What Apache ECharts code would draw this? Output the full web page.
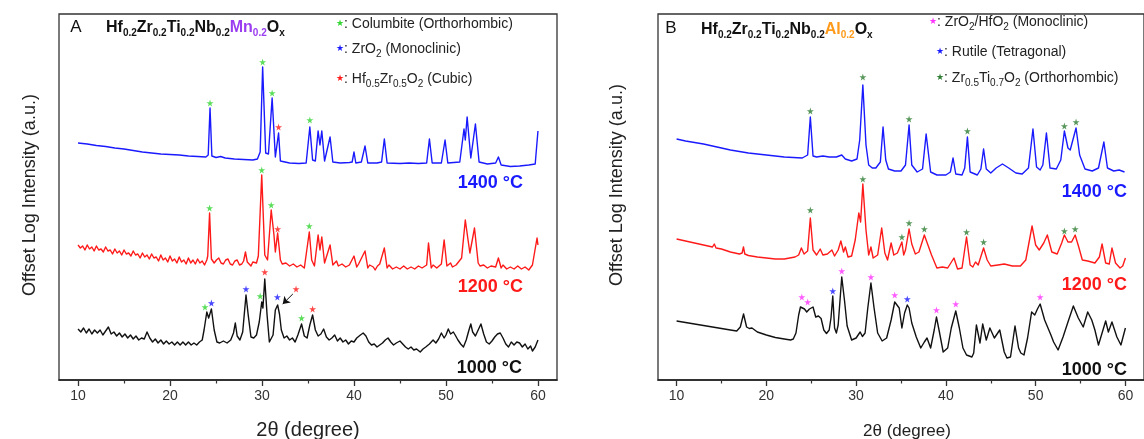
<!DOCTYPE html>
<html><head><meta charset="utf-8">
<script src="https://cdn.jsdelivr.net/npm/echarts@6/dist/echarts.min.js"></script>
<style>html,body{margin:0;padding:0;background:#fff}#c{width:1144px;height:439px}</style>
</head><body><div id="c"></div>
<script>
// ---------- DATA (2θ in degree, offset log intensity in a.u.) ----------
const tickLabels = [10, 20, 30, 40, 50, 60];
const minorTicks = [15, 25, 35, 45, 55];
const tempLabels = ['1400 °C', '1200 °C', '1000 °C'];

// Panel A : Hf0.2Zr0.2Ti0.2Nb0.2Mn0.2Ox
const mn1400 = [[10.0,237],[11,236],[12,234.5],[13,233.5],[14,232],[15,231],[16,229.5],[17,228],[18,227],[19,226],[20,225.5],[21,225],[22,224],[23,223.5],[23.9,223],[24.15,225],[24.35,272],[24.55,224],[25,222.5],[25.5,223.5],[26,222],[27,221],[28,220.5],[29,220],[29.5,221],[29.8,228],[30.07,313],[30.4,227],[30.7,226],[31.1,282],[31.45,223],[31.6,224],[31.8,247],[32.0,219],[33,217],[34,216.5],[34.8,217],[35.2,253],[35.5,220],[35.8,219],[36.1,249],[36.3,235],[36.5,249],[36.8,219],[37.0,220],[37.4,243],[37.7,218],[38.5,217],[39.5,217.5],[39.8,218],[40.0,228],[40.2,217],[40.8,218],[41.2,234],[41.5,217],[42.5,217],[43.0,218],[43.3,241],[43.6,217],[45,216.5],[46,217],[47,216.5],[47.9,217],[48.2,241],[48.5,217],[49.5,217],[49.9,240],[50.2,217],[51.5,218],[51.96,251],[52.1,240],[52.3,263],[52.7,222],[53.2,256],[53.6,218],[54.5,216],[55.4,217],[55.7,223],[56.0,215],[57,213.5],[58,214],[59,215],[59.7,216],[60.0,249]];
const mn1200 = [[10,135],[10.25,132],[10.5,134],[10.75,130],[11,135],[11.25,131],[11.5,133],[11.75,129],[12,134],[12.25,130],[12.5,131],[12.75,128],[13,133],[13.25,129],[13.5,130],[13.75,126],[14,131],[14.25,127],[14.5,129],[14.75,125],[15,130],[15.25,126],[15.5,127],[15.75,124],[16,129],[16.25,125],[16.5,126],[16.75,122],[17,127],[17.25,123],[17.5,125],[17.75,121],[18,126],[18.25,122],[18.5,123],[18.75,119],[19,125],[19.25,120],[19.5,122],[19.75,118],[20,124],[20.25,119],[20.5,121],[20.75,117],[21,123],[21.25,118],[21.5,120],[21.75,116],[22,122],[22.25,117],[22.5,120],[22.75,116],[23,121],[23.25,117],[23.5,119],[23.75,115],[24.0,120],[24.1,124],[24.3,167],[24.5,121],[24.8,117],[25.05,120],[25.3,122],[25.55,117],[25.8,116],[26.05,120],[26.3,121],[26.55,116],[26.8,115],[27.05,119],[27.3,120],[27.55,115],[27.8,116],[28.0,119],[28.2,128],[28.4,118],[28.6,116],[28.8,114],[29.0,118],[29.2,119],[29.4,117],[29.6,124],[29.97,205],[30.3,125],[30.6,120],[31.0,170],[31.3,145],[31.45,128],[31.7,147],[32.0,120],[32.2,116],[32.4,114],[32.6,117],[32.8,118],[33.0,114],[33.2,112],[33.4,116],[33.6,117],[33.8,113],[34.0,111],[34.2,115],[34.4,116],[34.6,112],[34.8,113],[35.14,148],[35.4,120],[35.7,114],[36.1,145],[36.3,130],[36.5,143],[36.8,117],[37.0,119],[37.4,135],[37.7,115],[37.9,117],[38.1,119],[38.3,114],[38.5,112],[38.7,116],[38.9,117],[39.1,113],[39.3,111],[39.5,115],[39.7,116],[40.0,124],[40.3,113],[40.5,116],[40.7,117],[41.2,129],[41.5,112],[41.7,115],[41.9,117],[42.1,113],[42.3,110],[42.55,114],[42.8,116],[43.3,132],[43.6,112],[43.8,115],[44.0,116],[44.2,111],[44.4,109],[44.6,113],[44.8,115],[45.0,111],[45.2,110],[45.4,114],[45.6,116],[45.8,111],[46.0,109],[46.2,113],[46.4,115],[46.6,111],[46.8,110],[47.0,114],[47.2,116],[47.4,112],[47.6,111],[47.9,115],[48.1,137],[48.4,112],[48.6,115],[48.8,117],[49.0,112],[49.2,110],[49.5,116],[49.8,140],[50.1,114],[50.3,116],[50.5,117],[50.7,113],[50.9,111],[51.1,115],[51.3,117],[51.7,122],[52.1,160],[52.4,140],[52.6,127],[52.8,128],[53.1,152],[53.5,117],[53.7,114],[53.9,112],[54.1,115],[54.3,117],[54.5,112],[54.7,110],[54.9,114],[55.1,115],[55.4,113],[55.7,122],[56.0,112],[56.2,115],[56.4,116],[56.6,111],[56.8,109],[57.0,113],[57.2,114],[57.4,111],[57.6,110],[57.8,114],[58.0,115],[58.2,111],[58.4,109],[58.6,113],[58.8,114],[59.0,110],[59.2,111],[59.4,115],[59.6,116],[59.9,142],[60.0,135]];
const mn1000 = [[10,51],[10.3,48],[10.6,52],[10.9,47],[11.2,51],[11.5,46],[11.8,50],[12.1,47],[12.4,50],[12.7,45],[13.0,49],[13.3,53],[13.6,46],[13.9,48],[14.2,44],[14.5,47],[14.8,43],[15.1,46],[15.4,42],[15.7,45],[16.0,41],[16.3,44],[16.6,40],[16.9,42],[17.2,41],[17.5,48],[17.8,42],[18.1,38],[18.4,41],[18.7,37],[19.0,40],[19.3,36],[19.6,39],[19.9,36],[20.2,38],[20.5,35],[20.8,38],[21.1,35],[21.4,38],[21.7,35],[22.0,38],[22.3,35],[22.6,37],[22.9,35],[23.2,38],[23.5,40],[23.7,50],[24.0,68],[24.2,62],[24.5,71],[24.8,50],[25.1,38],[25.4,37],[25.8,39],[26.2,37],[26.6,40],[26.9,47],[27.1,57],[27.3,44],[27.6,40],[27.9,48],[28.26,85],[28.5,65],[28.8,43],[29.1,42],[29.4,45],[29.7,58],[29.97,78],[30.1,72],[30.3,101],[30.55,65],[30.8,38],[31.0,37],[31.2,45],[31.45,70],[31.7,75],[31.9,66],[32.1,50],[32.4,42],[32.7,44],[33.0,40],[33.3,42],[33.6,38],[33.9,45],[34.3,56],[34.6,44],[34.9,42],[35.2,55],[35.5,65],[35.8,50],[36.1,44],[36.4,46],[36.7,51],[37.0,43],[37.3,40],[37.6,42],[37.9,45],[38.2,39],[38.5,42],[38.8,38],[39.1,40],[39.4,36],[39.7,39],[40.0,38],[40.3,42],[40.7,45],[41.0,47],[41.3,44],[41.6,38],[41.9,35],[42.2,36],[42.5,33],[42.8,35],[43.1,37],[43.4,40],[43.7,42],[44.0,38],[44.3,35],[44.6,37],[45.0,39],[45.3,36],[45.6,33],[45.9,31],[46.2,33],[46.5,30],[46.8,31],[47.2,28],[47.5,31],[47.8,33],[48.2,36],[48.6,40],[48.9,37],[49.2,41],[49.5,47],[49.8,42],[50.0,45],[50.25,51],[50.5,46],[50.8,48],[51.0,45],[51.3,40],[51.6,36],[51.9,33],[52.2,40],[52.5,50],[52.7,56],[52.9,48],[53.2,44],[53.5,50],[53.8,56],[54.1,46],[54.4,38],[54.7,36],[55.0,39],[55.3,43],[55.6,46],[55.9,47],[56.2,42],[56.5,36],[56.8,33],[57.1,38],[57.4,35],[57.7,38],[58.0,37],[58.3,33],[58.6,36],[58.9,31],[59.2,34],[59.4,29],[59.7,33],[60.0,40]];
const starsA_green = [[24.35,277],[30.07,318],[31.1,287],[35.2,260],[24.3,172],[29.97,210],[31.0,175],[35.14,154],[23.8,73],[29.8,84],[34.3,62]];
const starsA_blue = [[24.5,77],[28.26,91],[31.67,83]];
const starsA_red = [[31.8,253],[31.7,151],[30.3,108],[33.7,91],[35.5,71]];
const arrowA = [[33.35,86],[32.25,76]];

// Panel B : Hf0.2Zr0.2Ti0.2Nb0.2Al0.2Ox
const al1400 = [[10.0,241],[11,239],[12,237.5],[13,236],[14,234],[15,232],[16,230],[17,228.5],[18,227],[19,226],[20,225],[21,224],[22,223],[23,222.5],[24.0,222],[24.6,225],[24.9,263],[25.2,224],[25.6,223],[26.3,224],[27,223],[27.8,223],[28.1,224],[28.4,225],[28.8,221],[29.5,219],[30.1,221],[30.4,240],[30.75,295],[31.1,235],[31.4,215],[31.8,212],[32.2,212],[32.7,218],[33.0,253],[33.3,220],[33.6,211],[34.3,209],[35.0,209],[35.5,215],[35.9,255],[36.2,215],[36.8,208],[37.4,211],[37.8,246],[38.3,208],[39.0,205],[40.0,205],[40.5,208],[40.8,222],[41.1,206],[41.8,205],[42.1,212],[42.4,243],[42.7,208],[43.5,205],[43.9,211],[44.2,231],[44.5,211],[45.0,207],[45.6,212],[46.3,216],[47.0,212],[47.8,207],[48.5,206],[49.2,212],[49.7,251],[50.1,213],[50.5,210],[50.8,215],[51.2,247],[51.6,212],[52.3,211],[52.8,220],[53.2,249],[53.6,232],[53.85,230],[54.5,252],[54.9,225],[55.5,211],[56.3,209],[57.0,212],[57.6,238],[58.0,212],[58.7,209],[59.3,210],[59.9,208]];
const al1200 = [[10.0,141],[11,139],[12,137],[13,135],[14.0,133],[14.2,136],[14.4,132],[15,131],[16,128],[17,126],[17.3,127],[17.45,133],[17.6,126],[18,124.5],[19,123],[20,122],[21,121],[22,121],[23.2,123],[23.6,125],[23.9,132],[24.2,126],[24.6,129],[24.9,162],[25.2,130],[25.6,125],[26.0,131],[26.3,125],[26.8,126],[27.3,130],[27.6,124],[28.0,130],[28.3,139],[28.6,128],[28.8,133],[29.1,123],[29.5,124],[29.9,140],[30.3,167],[30.5,158],[30.75,196],[31.1,150],[31.4,125],[31.65,133],[31.9,122],[32.4,125],[32.85,152],[33.2,127],[33.5,120],[33.9,137],[34.2,125],[34.6,127],[35.1,138],[35.3,125],[35.5,130],[35.9,151],[36.2,136],[36.6,126],[37.0,128],[37.6,145],[38.0,135],[38.4,125],[39.0,112],[39.6,113],[40.2,112],[40.9,122],[41.3,111],[41.8,112],[42.3,143],[42.7,115],[43.0,113],[43.3,118],[43.6,115],[44.2,132],[44.6,120],[45.0,114],[45.8,115],[46.5,116],[47.4,114],[48.3,114],[48.9,120],[49.6,154],[50.0,135],[50.4,130],[50.9,137],[51.3,145],[51.8,128],[52.4,126],[52.9,137],[53.2,145],[53.6,138],[54.0,138],[54.4,145],[54.8,133],[55.2,120],[55.8,119],[56.6,117],[57.1,123],[57.4,136],[57.8,117],[58.2,116],[58.5,132],[58.9,117],[59.4,112],[59.7,114],[60.0,122]];
const al1000 = [[10.0,59],[11,57.5],[12,56],[13,54.5],[14,53],[15,51.5],[16,50],[16.7,49],[17.1,53],[17.46,66],[17.8,53],[18.1,51.5],[18.4,52],[19,48],[20,45],[21,42.5],[22,41],[22.7,40],[23.0,41],[23.3,47],[23.6,65],[23.8,73],[24.0,74],[24.25,71],[24.5,68],[24.8,71],[25.2,73],[25.5,63],[25.8,64],[26.1,61.5],[26.4,50],[26.7,46.5],[27.0,50],[27.2,62],[27.4,84],[27.6,52],[27.8,47],[28.0,55],[28.4,103],[28.7,80],[29.0,54],[29.5,40],[30.0,42],[30.45,48],[30.7,43.5],[31.0,47],[31.3,72],[31.65,97],[32.0,72],[32.4,47],[32.9,39],[33.4,42],[33.9,60],[34.3,78],[34.55,75],[34.8,72],[35.1,52],[35.4,67],[35.7,75],[35.9,72],[36.2,57],[36.7,43],[37.2,32],[37.6,38],[37.9,42],[38.3,32],[38.7,50],[38.95,63],[39.3,47],[39.7,28],[40.2,32],[40.6,52],[41.1,69],[41.5,52],[41.9,32],[42.3,25],[42.9,23],[43.1,27],[43.4,55],[43.8,37],[44.1,56],[44.5,40],[44.9,52],[45.4,42],[46.0,50],[46.5,28],[46.8,22],[47.2,23],[47.7,54],[48.1,32],[48.35,27],[48.7,25],[49.1,42],[49.55,68],[49.9,65],[50.2,71],[50.5,76],[51.0,60],[51.7,45],[52.0,38],[52.5,30],[53.05,43],[53.6,58],[54.2,74],[54.75,62],[55.3,53],[55.8,68],[56.25,60],[56.6,50],[57.0,35],[57.4,47],[57.8,59],[58.1,48],[58.5,58],[59.05,43],[59.5,35],[60.0,52]];
const starsB_green = [[24.9,269],[30.75,303],[35.9,261],[42.4,249],[53.2,254],[54.5,258],[24.9,170],[30.75,201],[35.1,143],[35.9,157],[37.6,151],[42.3,148],[44.2,138],[53.2,149],[54.4,151]];
const starsB_blue = [[27.4,89],[35.7,81]];
const starsB_magenta = [[23.95,83],[24.6,78],[28.4,109],[31.65,103],[34.3,85],[38.95,70],[41.1,76],[50.5,83]];

// ---------- CHART ----------
const FONT = '"Liberation Sans", Arial, sans-serif';
const STAR = 'path://M50,0 L61,35 L98,35 L68,57 L79,91 L50,70 L21,91 L32,57 L2,35 L39,35 Z';
const C = {blue:'#1a1aff', red:'#ff1a1a', black:'#111111', lgreen:'#33d633', dgreen:'#2e7d32', magenta:'#ff33ff'};
const XMIN = 7.93, XMAX = 62.07, YMAX = 366;

function grid(left){ return {left:left, top:14, width:498, height:366, show:true, borderColor:'#333', borderWidth:1.3, backgroundColor:'transparent'}; }
function mainX(g){ return {type:'value', gridIndex:g, min:XMIN, max:XMAX, position:'bottom',
  axisLine:{show:true, onZero:false, lineStyle:{color:'#222', width:1.5}}, splitLine:{show:false},
  axisTick:{show:true, customValues:tickLabels, length:6, inside:false, lineStyle:{color:'#333', width:1.3}},
  axisLabel:{show:true, customValues:tickLabels, margin:9, fontSize:14, fontFamily:FONT, color:'#333'}}; }
function minorX(g){ return {type:'value', gridIndex:g, min:XMIN, max:XMAX, position:'bottom',
  axisLine:{show:false, onZero:false}, splitLine:{show:false}, axisLabel:{show:false},
  axisTick:{show:true, customValues:minorTicks, length:3.5, inside:false, lineStyle:{color:'#333', width:1.2}}}; }
function yAx(g){ return {type:'value', gridIndex:g, min:0, max:YMAX, show:false}; }
function line(data, color, xi, yi, extra){ return Object.assign({type:'line', data:data, xAxisIndex:xi, yAxisIndex:yi, showSymbol:false, symbol:'none',
  lineStyle:{color:color, width:1.4, join:'round'}, itemStyle:{color:color}, animation:false, z:3}, extra||{}); }
function stars(data, color, xi, yi){ return {type:'scatter', data:data, xAxisIndex:xi, yAxisIndex:yi, symbol:STAR, symbolSize:7,
  itemStyle:{color:color}, animation:false, z:5}; }

const sub = {font:'bold 10px '+FONT, fill:'#111', verticalAlign:'bottom', lineHeight:10};
const big = {font:'bold 16px '+FONT, fill:'#111', lineHeight:20};
function titleRich(metal, color){
  return {text:'{b|Hf}{s|0.2}{b|Zr}{s|0.2}{b|Ti}{s|0.2}{b|Nb}{s|0.2}{m|'+metal+'}{ms|0.2}{b|O}{s|x}',
    rich:{b:big, s:sub, m:Object.assign({}, big, {fill:color}), ms:Object.assign({}, sub, {fill:color})}};
}
const lt = {font:'14px '+FONT, fill:'#222', lineHeight:20};
const ls = {font:'10px '+FONT, fill:'#222', verticalAlign:'bottom', lineHeight:10};
function legendItem(x, y, starColor, text){
  return {type:'text', x:x, y:y, style:{text:text, verticalAlign:'middle', align:'left',
    rich:{g:{font:'9px "DejaVu Sans"', fill:starColor, lineHeight:20}, t:lt, s:ls}}};
}
function txt(x, y, text, font, fill, align, rot){
  return {type:'text', x:x, y:y, rotation:rot||0, style:{text:text, font:font, fill:fill, align:align||'center', verticalAlign:'middle'}};
}

const chart = echarts.init(document.getElementById('c'), null, {renderer:'canvas'});
chart.setOption({
  backgroundColor:'#ffffff',
  animation:false,
  grid:[grid(59), grid(658)],
  xAxis:[mainX(0), minorX(0), mainX(1), minorX(1)],
  yAxis:[yAx(0), yAx(1)],
  series:[
    line(mn1400, C.blue, 0, 0),
    line(mn1200, C.red, 0, 0),
    line(mn1000, C.black, 0, 0, {markLine:{silent:true, animation:false, symbol:['none','arrow'], symbolSize:7,
      label:{show:false}, lineStyle:{color:'#111', width:1, type:'solid'},
      data:[[{coord:arrowA[0]}, {coord:arrowA[1]}]]}}),
    stars(starsA_green, C.lgreen, 0, 0),
    stars(starsA_blue, C.blue, 0, 0),
    stars(starsA_red, C.red, 0, 0),
    line(al1400, C.blue, 2, 1),
    line(al1200, C.red, 2, 1),
    line(al1000, C.black, 2, 1),
    stars(starsB_green, C.dgreen, 2, 1),
    stars(starsB_blue, C.blue, 2, 1),
    stars(starsB_magenta, C.magenta, 2, 1)
  ],
  graphic:[
    txt(76, 27, 'A', '17px '+FONT, '#111'),
    {type:'text', x:106, y:28, style:Object.assign({verticalAlign:'middle', align:'left'}, titleRich('Mn', '#9a3cf0'))},
    legendItem(336, 24, C.lgreen, '{g|★}{t|: Columbite (Orthorhombic)}'),
    legendItem(336, 49, C.blue, '{g|★}{t|: ZrO}{s|2}{t| (Monoclinic)}'),
    legendItem(336, 79, C.red, '{g|★}{t|: Hf}{s|0.5}{t|Zr}{s|0.5}{t|O}{s|2}{t| (Cubic)}'),
    txt(523, 183, tempLabels[0], 'bold 18px '+FONT, C.blue, 'right'),
    txt(523, 287, tempLabels[1], 'bold 18px '+FONT, C.red, 'right'),
    txt(522, 368, tempLabels[2], 'bold 18px '+FONT, '#111', 'right'),
    txt(30, 195, 'Offset Log Intensity (a.u.)', '18px '+FONT, '#222', 'center', Math.PI/2),
    txt(308, 430, '2θ (degree)', '20px '+FONT, '#222'),

    txt(671, 28, 'B', '17px '+FONT, '#111'),
    {type:'text', x:701, y:30, style:Object.assign({verticalAlign:'middle', align:'left'}, titleRich('Al', '#ff9a1a'))},
    legendItem(929, 22, C.magenta, '{g|★}{t|: ZrO}{s|2}{t|/HfO}{s|2}{t| (Monoclinic)}'),
    legendItem(936, 52, C.blue, '{g|★}{t|: Rutile (Tetragonal)}'),
    legendItem(936, 78, C.dgreen, '{g|★}{t|: Zr}{s|0.5}{t|Ti}{s|0.7}{t|O}{s|2}{t| (Orthorhombic)}'),
    txt(1127, 192, tempLabels[0], 'bold 18px '+FONT, C.blue, 'right'),
    txt(1127, 285, tempLabels[1], 'bold 18px '+FONT, C.red, 'right'),
    txt(1127, 370, tempLabels[2], 'bold 18px '+FONT, '#111', 'right'),
    txt(617, 185, 'Offset Log Intensity (a.u.)', '18px '+FONT, '#222', 'center', Math.PI/2),
    txt(907, 431, '2θ (degree)', '17px '+FONT, '#222')
  ]
});
</script></body></html>
